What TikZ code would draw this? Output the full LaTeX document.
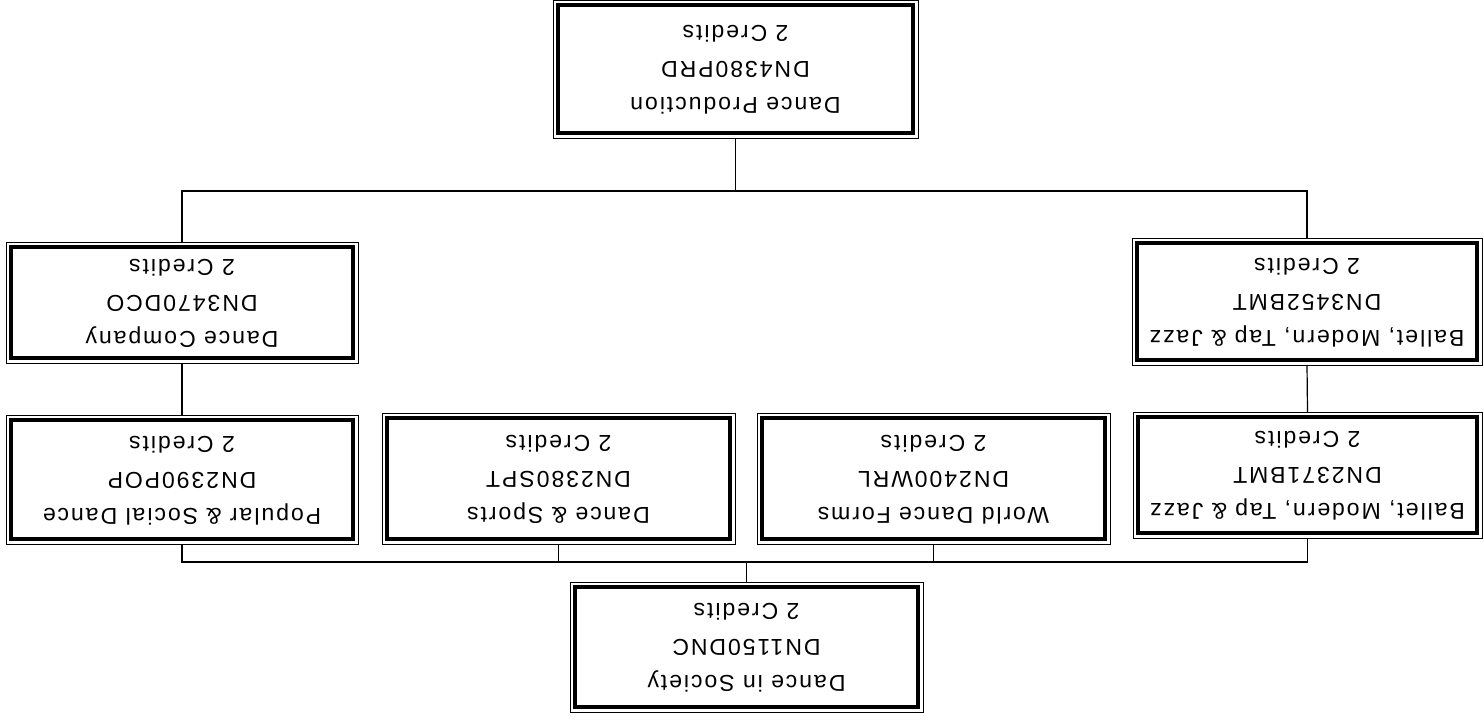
\documentclass[tikz,border=0pt]{standalone}
\usepackage{fontspec}
\newfontfamily\coursefont[LetterSpace=8.5]{Liberation Sans}
% upside-down three line label
\newcommand{\flipped}[1]{\rotatebox{180}{\begin{tabular}{@{}c@{}}#1\end{tabular}}}

\begin{document}
\begin{tikzpicture}[x=1pt, y=-1pt, line width=1.2pt,
  course/.style 2 args={draw, line width=4pt, inner sep=0pt, outer sep=5pt,
    minimum width=#1, minimum height=#2,
    font=\coursefont\fontsize{23}{36}\selectfont}]
  \useasboundingbox (0,0) rectangle (1483,720);
  % course boxes
  \node[course={355pt}{128pt}] (prod)    at (735.5,69)   {\flipped{Dance Production\\DN4380PRD\\2 Credits}};
  \node[course={342pt}{111pt}] (comp)    at (182,302.5)  {\flipped{Dance Company\\DN3470DCO\\2 Credits}};
  \node[course={340pt}{117pt}] (balA)    at (1307,301.5) {\flipped{Ballet, Modern, Tap \& Jazz\\DN3452BMT\\2 Credits}};
  \node[course={342pt}{119pt}] (pop)     at (182,479.5)  {\flipped{Popular \& Social Dance\\DN2390POP\\2 Credits}};
  \node[course={343pt}{121pt}] (sport)   at (558.5,478.5){\flipped{Dance \& Sports\\DN2380SPT\\2 Credits}};
  \node[course={343pt}{121pt}] (world)   at (933.5,478.5){\flipped{World Dance Forms\\DN2400WRL\\2 Credits}};
  \node[course={339pt}{116pt}] (balB)    at (1307.5,475) {\flipped{Ballet, Modern, Tap \& Jazz\\DN2371BMT\\2 Credits}};
  \node[course={343pt}{120pt}] (soc)     at (746.5,647)  {\flipped{Dance in Society\\DN1150DNC\\2 Credits}};
  % thin outer frames
  \foreach \n in {prod,comp,balA,pop,sport,world,balB,soc}
    \draw[line width=1pt] (\n.north west) rectangle (\n.south east);
  % upper branch
  \coordinate (topbus) at (735.5,191);
  \draw (prod.south) -- (topbus);
  \draw (comp.north) |- (topbus) -| (balA.north);
  \draw (comp.south) -- (pop.north);
  \draw (balA.south) -- (balB.north);
  % lower branch
  \coordinate (botbus) at (746.5,562);
  \draw (pop.south) |- (botbus) -| (balB.south);
  \draw (sport.south) -- (sport.south |- botbus);
  \draw (world.south) -- (world.south |- botbus);
  \draw (soc.north) -- (botbus);
\end{tikzpicture}
\end{document}
